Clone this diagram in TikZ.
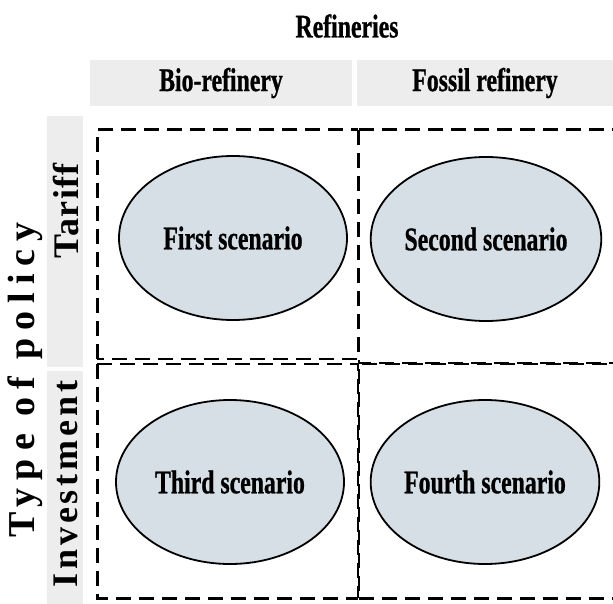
\documentclass[tikz,border=0pt]{standalone}
\usepackage{fontspec}
\setmainfont{Liberation Serif}
\newfontfamily\condf[FakeStretch=0.72,FakeBold=0.8]{Liberation Serif}
\newfontfamily\widef[LetterSpace=21]{Liberation Serif}
\newfontfamily\midf[LetterSpace=11]{Liberation Serif}
\newfontfamily\narf[LetterSpace=4]{Liberation Serif}
\definecolor{hdr}{HTML}{EDEDED}
\definecolor{scen}{HTML}{D6DFE6}
\usetikzlibrary{shapes.geometric}
\tikzset{
  hdrbox/.style={fill=hdr,draw=none,inner sep=0pt,
    font=\condf\bfseries\fontsize{33}{36}\selectfont},
  sidebox/.style={fill=hdr,draw=none,inner sep=0pt,rotate=90,minimum height=36pt},
  sidetext/.style={inner sep=0pt,rotate=90,font=\bfseries\fontsize{36}{40}\selectfont},
  quadout/.style={draw=black,line width=3pt,dash pattern=on 15pt off 8pt},
  quadin/.style={draw=black,line width=2pt,dash pattern=on 15pt off 8pt},
  scenario/.style={ellipse,draw=black,line width=1.8pt,fill=scen,inner sep=0pt,
    minimum width=228pt,minimum height=164pt,
    font=\condf\bfseries\fontsize{33}{36}\selectfont},
  title/.style={inner sep=0pt,font=\condf\bfseries\fontsize{33}{36}\selectfont}
}
\begin{document}
\begin{tikzpicture}[x=1pt,y=-1pt]
\useasboundingbox (0,0) rectangle (613,604);
% column headers
\node[title] (ref) at (347,26) {Refineries};
\node[hdrbox,minimum width=262pt,minimum height=46pt] (bio) at (221,83) {Bio-refinery};
\node[hdrbox,minimum width=256pt,minimum height=46pt] (fos) at (485,83) {Fossil refinery};
% row headers
\node[sidebox,minimum width=251pt] (tarbox) at (65,241.5) {};
\node[sidebox,minimum width=233pt] (invbox) at (65,487.5) {};
\node[sidetext,font=\narf\bfseries\fontsize{36}{40}\selectfont] (tar) at (66,211) {Tariff};
\node[sidetext,font=\midf\bfseries\fontsize{36}{40}\selectfont] (inv) at (66,484) {Investment};
\node[rotate=90,inner sep=0pt,font=\widef\bfseries\fontsize{38}{42}\selectfont] (pol) at (25,380) {Type of policy};
% quadrants: top-left
\draw[quadout] (97,359) -- (97,130) -- (358,130);
\draw[quadin] (358,130) -- (358,359) -- (97,359);
% top-right
\draw[quadout] (359,130) -- (630,130);
\draw[quadin] (359,130) -- (359,363) -- (630,363);
% bottom-left
\draw[quadout] (97,364) -- (97,598) -- (358,598);
\draw[quadin] (97,364) -- (358,364) -- (358,598);
% bottom-right
\draw[quadin] (630,364) -- (359,364) -- (359,598);
\draw[quadout] (359,598) -- (630,598);
% scenarios
\node[scenario] (s1) at (233,238) {First scenario};
\node[scenario] (s2) at (486,239) {Second scenario};
\node[scenario] (s3) at (230,482) {Third scenario};
\node[scenario] (s4) at (485,482) {Fourth scenario};
\end{tikzpicture}
\end{document}
